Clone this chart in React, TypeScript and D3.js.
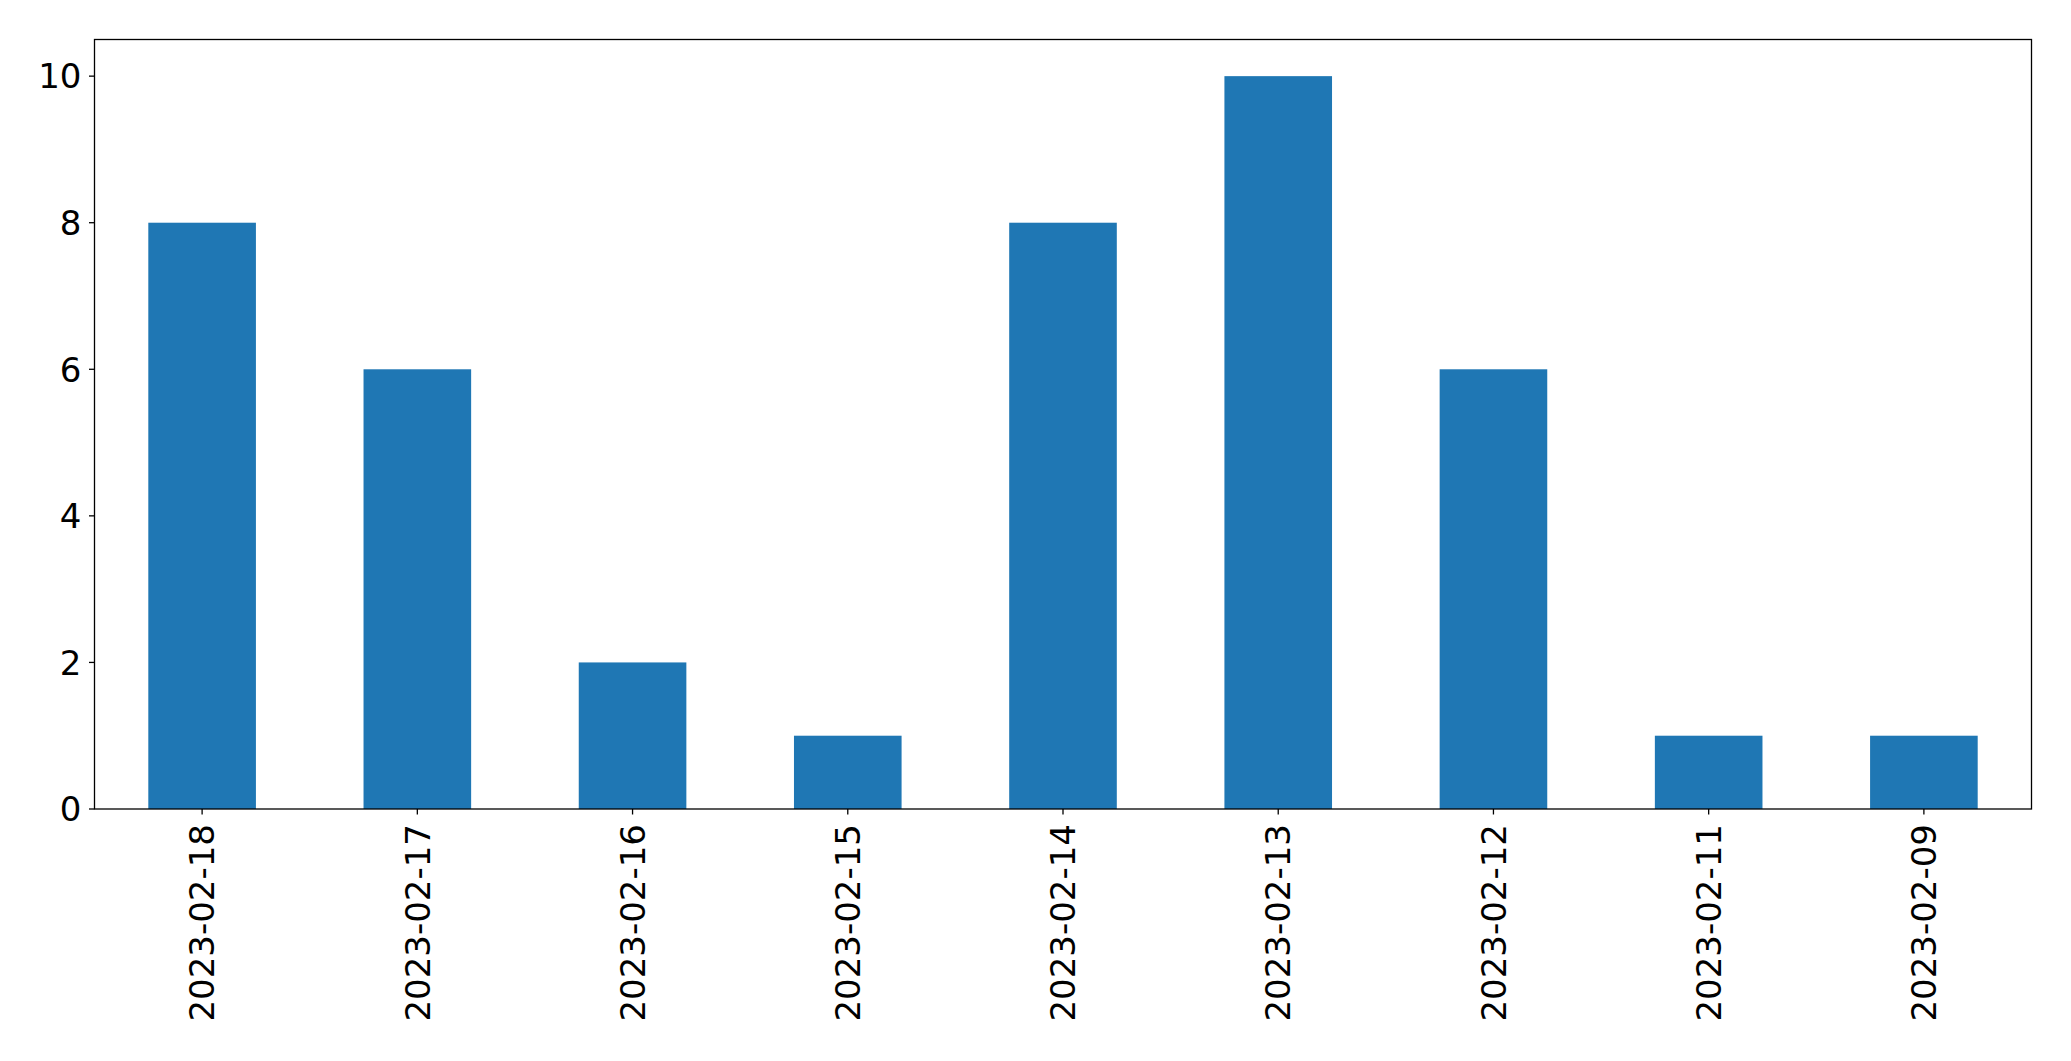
import React from "react";
import * as d3 from "d3";

const categories = ["2023-02-18", "2023-02-17", "2023-02-16", "2023-02-15", "2023-02-14", "2023-02-13", "2023-02-12", "2023-02-11", "2023-02-09"];
const values = [8, 6, 2, 1, 8, 10, 6, 1, 1];
const yTicks = [0, 2, 4, 6, 8, 10];

const W = 2071;
const H = 1061;
const left = 94.5;
const right = 2031.5;
const top = 39.5;
const bottom = 809;
const fontSize = 34;
const font = "DejaVu Sans";

export default function App() {
  const x = d3.scaleBand<string>().domain(categories).range([left, right]).paddingInner(0.5).paddingOuter(0.25);
  const y = d3.scaleLinear().domain([0, 10.5]).range([bottom, top]);
  return (
    <svg width={W} height={H} style={{ position: "absolute", left: 0, top: 0 }}>
      <rect x={0} y={0} width={W} height={H} fill="white" />
      {categories.map((c, i) => (
        <rect key={c} x={x(c)} y={y(values[i])} width={x.bandwidth()} height={y(0) - y(values[i])} fill="#1f77b4" />
      ))}
      <rect x={left} y={top} width={right - left} height={bottom - top} fill="none" stroke="black" strokeWidth={1.3} />
      {yTicks.map((t) => (
        <g key={t}>
          <line x1={left - 5.5} x2={left} y1={y(t)} y2={y(t)} stroke="black" strokeWidth={1.3} />
          <text x={left - 13} y={y(t)} dy="0.36em" textAnchor="end" fontFamily={font} fontSize={fontSize} fill="black">{t}</text>
        </g>
      ))}
      {categories.map((c) => {
        const cx = (x(c) as number) + x.bandwidth() / 2;
        return (
          <g key={c}>
            <line x1={cx} x2={cx} y1={bottom} y2={bottom + 5.5} stroke="black" strokeWidth={1.3} />
            <text transform={`translate(${cx},${bottom + 15}) rotate(-90)`} dy="0.36em" textAnchor="end" fontFamily={font} fontSize={fontSize} fill="black">{c}</text>
          </g>
        );
      })}
    </svg>
  );
}
